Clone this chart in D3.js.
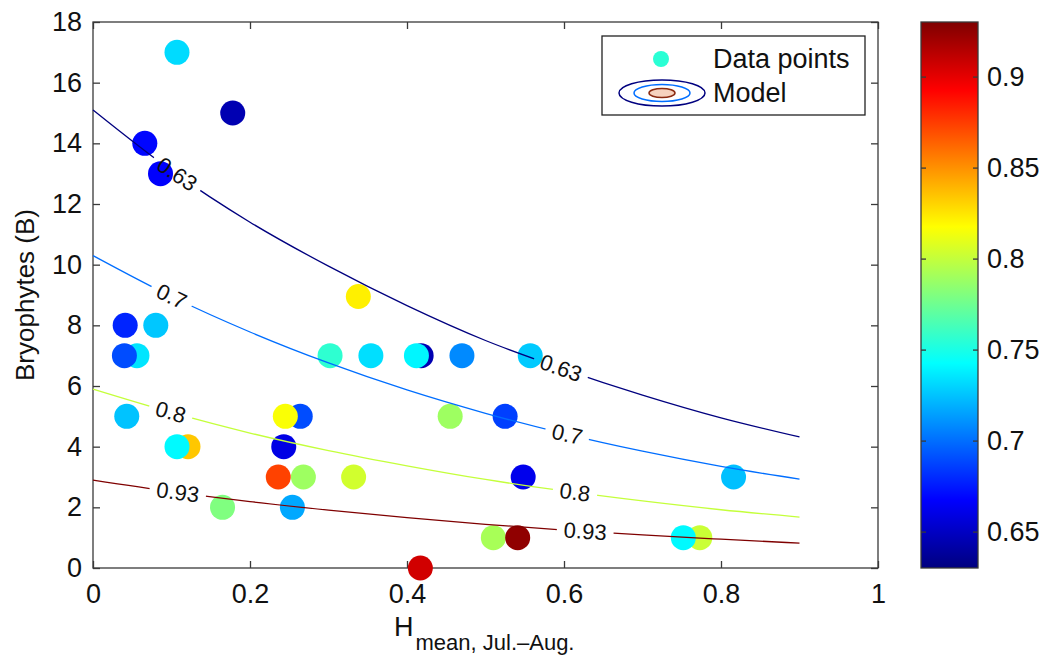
<!DOCTYPE html>
<html>
<head>
<meta charset="utf-8">
<script src="https://cdn.jsdelivr.net/npm/d3@7"></script>
<style>
  body { margin: 0; background: #fff; }
  text { font-family: "Liberation Sans", Arial, Helvetica, sans-serif; }
</style>
</head>
<body>
<svg width="1048" height="657"></svg>
<script>
// ---- data ----
const xTicks = [0, 0.2, 0.4, 0.6, 0.8, 1];
const yTicks = [0, 2, 4, 6, 8, 10, 12, 14, 16, 18];
const cbTicks = [0.65, 0.7, 0.75, 0.8, 0.85, 0.9];

// [H mean, Bryophytes, colour value], in drawing order
const points = [
  [0.107, 17, 0.732], [0.178, 15, 0.645], [0.066, 14, 0.669], [0.086, 13, 0.667],
  [0.041, 8, 0.678], [0.080, 8, 0.726], [0.056, 7, 0.735], [0.040, 7, 0.690],
  [0.043, 5, 0.725], [0.121, 4, 0.834], [0.107, 4, 0.741], [0.165, 2, 0.780],
  [0.264, 5, 0.690], [0.245, 5, 0.816], [0.243, 4, 0.660], [0.268, 3, 0.789],
  [0.236, 3, 0.873], [0.254, 2, 0.717], [0.302, 7, 0.756], [0.338, 8.95, 0.822],
  [0.354, 7, 0.733], [0.418, 7, 0.645], [0.412, 7, 0.740], [0.470, 7, 0.708],
  [0.557, 7, 0.727], [0.332, 3, 0.804], [0.455, 5, 0.789], [0.525, 5, 0.686],
  [0.548, 3, 0.662], [0.510, 1, 0.792], [0.541, 1, 0.925], [0.417, 0, 0.906],
  [0.816, 3, 0.724], [0.773, 1, 0.802], [0.752, 1, 0.741]
];

// model contour lines
const contourLevels = [0.63, 0.7, 0.8, 0.93];
const contourH = [0, 0.1, 0.2, 0.3, 0.4, 0.5, 0.6, 0.7, 0.8, 0.9];
const contourB = [
  [15.1, 13.1, 11.4, 9.95, 8.65, 7.5, 6.55, 5.7, 4.95, 4.32],
  [10.3, 8.95, 7.78, 6.76, 5.87, 5.1, 4.43, 3.85, 3.35, 2.93],
  [5.9, 5.13, 4.45, 3.87, 3.37, 2.92, 2.54, 2.21, 1.92, 1.68],
  [2.9, 2.52, 2.19, 1.91, 1.66, 1.44, 1.25, 1.09, 0.95, 0.82]
];
const contourLabelH = [[0.107, 0.596], [0.1, 0.604], [0.099, 0.614], [0.108, 0.627]];

// jet colormap
const jetStops = [0, 0.125, 0.375, 0.625, 0.875, 1];
const jetColors = ["#00007f", "#0000ff", "#00ffff", "#ffff00", "#ff0000", "#7f0000"];
const cMin = 0.63, cMax = 0.93;

// ---- layout ----
const W = 1048, H = 657;
const pLeft = 93, pRight = 878, pTop = 22, pBottom = 568;
const axisColor = "#3a3a3a";

const svg = d3.select("svg");
const x = d3.scaleLinear().domain([0, 1]).range([pLeft, pRight]);
const y = d3.scaleLinear().domain([0, 18]).range([pBottom, pTop]);
const color = d3.scaleLinear()
  .domain(jetStops.map(t => cMin + t * (cMax - cMin)))
  .range(jetColors).clamp(true);

// axes (ticks pointing inward, box around)
function styleAxis(g) {
  g.select(".domain").remove();
  g.selectAll(".tick line").attr("stroke", axisColor).attr("stroke-width", 1.3);
  g.selectAll(".tick text").attr("fill", "#111").attr("font-size", "27px");
}
svg.append("g").attr("transform", `translate(0,${pBottom})`)
  .call(d3.axisBottom(x).tickValues(xTicks).tickFormat(d3.format("")).tickSizeInner(-7).tickSizeOuter(0).tickPadding(16))
  .call(styleAxis);
svg.append("g").attr("transform", `translate(${pLeft},0)`)
  .call(d3.axisLeft(y).tickValues(yTicks).tickSizeInner(-7).tickSizeOuter(0).tickPadding(11))
  .call(styleAxis);
svg.append("g").attr("transform", `translate(0,${pTop})`)
  .call(d3.axisTop(x).tickValues(xTicks).tickFormat("").tickSizeInner(-7).tickSizeOuter(0))
  .call(styleAxis);
svg.append("g").attr("transform", `translate(${pRight},0)`)
  .call(d3.axisRight(y).tickValues(yTicks).tickFormat("").tickSizeInner(-7).tickSizeOuter(0))
  .call(styleAxis);
svg.append("rect")
  .attr("x", pLeft).attr("y", pTop).attr("width", pRight - pLeft).attr("height", pBottom - pTop)
  .attr("fill", "none").attr("stroke", axisColor).attr("stroke-width", 1.3);

// axis labels
svg.append("text")
  .attr("transform", `translate(34,${(pTop + pBottom) / 2}) rotate(-90)`)
  .attr("text-anchor", "middle").attr("font-size", "26px").attr("fill", "#111")
  .text("Bryophytes (B)");
const xl = svg.append("text").attr("x", 394).attr("y", 636).attr("font-size", "27px").attr("fill", "#111");
xl.append("tspan").text("H");
xl.append("tspan").attr("dy", 14).attr("dx", 2).attr("font-size", "22px").text("mean, Jul.\u2013Aug.");

// data points
svg.append("g").selectAll("circle")
  .data(points)
  .join("circle")
  .attr("cx", d => x(d[0]))
  .attr("cy", d => y(d[1]))
  .attr("r", 12.5)
  .attr("fill", d => color(d[2]));

// contour lines with inline labels (gaps via mask)
const defs = svg.append("defs");
const mask = defs.append("mask").attr("id", "gapMask")
  .attr("maskUnits", "userSpaceOnUse").attr("x", 0).attr("y", 0).attr("width", W).attr("height", H);
mask.append("rect").attr("width", W).attr("height", H).attr("fill", "white");

const line = d3.line().x(d => x(d[0])).y(d => y(d[1])).curve(d3.curveMonotoneX);
const lineG = svg.append("g").attr("mask", "url(#gapMask)");
const labelG = svg.append("g");

contourLevels.forEach((lev, i) => {
  const pts = contourH.map((h, j) => [h, contourB[i][j]]);
  lineG.append("path")
    .attr("d", line(pts))
    .attr("fill", "none")
    .attr("stroke", color(lev))
    .attr("stroke-width", 1.3);

  const interp = d3.scaleLinear().domain(contourH).range(contourB[i]);
  contourLabelH[i].forEach(h => {
    const px = x(h), py = y(interp(h));
    const dx = x(h + 0.01) - x(h - 0.01);
    const dy = y(interp(h + 0.01)) - y(interp(h - 0.01));
    const ang = Math.atan2(dy, dx) * 180 / Math.PI;
    const t = labelG.append("text")
      .attr("transform", `translate(${px},${py}) rotate(${ang})`)
      .attr("text-anchor", "middle")
      .attr("dominant-baseline", "central")
      .attr("font-size", "22px")
      .attr("fill", "#111")
      .text(lev);
    const w = t.node().getComputedTextLength();
    mask.append("rect")
      .attr("transform", `translate(${px},${py}) rotate(${ang})`)
      .attr("x", -w / 2 - 7).attr("y", -9).attr("width", w + 14).attr("height", 18)
      .attr("fill", "black");
  });
});

// legend
const lg = svg.append("g");
lg.append("rect").attr("x", 602).attr("y", 36).attr("width", 263).attr("height", 79)
  .attr("fill", "#fff").attr("stroke", "#222").attr("stroke-width", 1.3);
lg.append("circle").attr("cx", 661).attr("cy", 59).attr("r", 8).attr("fill", color(0.755));
lg.append("text").attr("x", 713).attr("y", 68).attr("font-size", "27px").attr("fill", "#111").text("Data points");
const ellipses = [[43, 13, "none", color(0.63)], [28, 8.5, "none", color(0.7)], [13, 4.5, "#f6d2be", "#8a2a10"]];
ellipses.forEach(e => {
  lg.append("ellipse").attr("cx", 662).attr("cy", 93).attr("rx", e[0]).attr("ry", e[1])
    .attr("fill", e[2]).attr("stroke", e[3]).attr("stroke-width", 1.5);
});
lg.append("text").attr("x", 713).attr("y", 102).attr("font-size", "27px").attr("fill", "#111").text("Model");

// colorbar
const cbX = 921, cbW = 57;
const cy = d3.scaleLinear().domain([cMin, cMax]).range([pBottom, pTop]);
const grad = defs.append("linearGradient").attr("id", "jet")
  .attr("x1", 0).attr("y1", 1).attr("x2", 0).attr("y2", 0);
jetStops.forEach((t, i) => grad.append("stop").attr("offset", t).attr("stop-color", jetColors[i]));
svg.append("rect").attr("x", cbX).attr("y", pTop).attr("width", cbW).attr("height", pBottom - pTop)
  .attr("fill", "url(#jet)").attr("stroke", axisColor).attr("stroke-width", 1.3);
svg.append("g").attr("transform", `translate(${cbX + cbW},0)`)
  .call(d3.axisRight(cy).tickValues(cbTicks).tickFormat(d3.format("")).tickSizeInner(-5).tickSizeOuter(0).tickPadding(9))
  .call(styleAxis);
svg.append("g").attr("transform", `translate(${cbX},0)`)
  .call(d3.axisLeft(cy).tickValues(cbTicks).tickFormat("").tickSizeInner(-5).tickSizeOuter(0))
  .call(styleAxis);
</script>
</body>
</html>
